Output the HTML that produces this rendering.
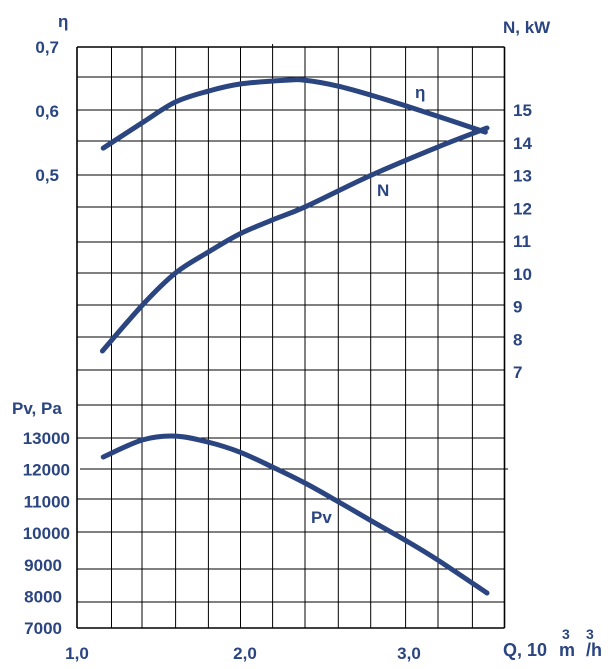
<!DOCTYPE html>
<html><head><meta charset="utf-8"><style>
html,body{margin:0;padding:0;background:#fff;}
svg{display:block;}
text{font-family:"Liberation Sans",Arial,sans-serif;font-weight:bold;fill:#2b4580;font-size:17px;}
</style></head><body>
<svg id="chart" width="610" height="669" viewBox="0 0 610 669">
<g id="grid"></g>
<g id="labels">
<text x="58" y="27">η</text>
<text x="503" y="33">N, kW</text>
<text x="12" y="414">Pv, Pa</text>
<text x="503" y="656" style="font-size:18px">Q, 10</text>
<text x="559" y="656" style="font-size:18px">m</text>
<text x="562" y="639" style="font-size:14px">3</text>
<text x="586" y="639" style="font-size:14px">3</text>
<text x="586" y="656" style="font-size:18px">/h</text>
<text x="415" y="98">η</text>
<text x="377" y="196">N</text>
<text x="311" y="523">Pv</text>
</g>
<g id="curves"></g>
</svg>
<script>
const xTicks=[1.0,2.0,3.0];
const xTickLabels=["1,0","2,0","3,0"];
const etaTicks=[0.7,0.6,0.5];
const etaTickLabels=["0,7","0,6","0,5"];
const nTicks=[15,14,13,12,11,10,9,8,7];
const pTicks=[13000,12000,11000,10000,9000,8000,7000];
const qEta=[1.16,1.40,1.60,1.80,1.99,2.27,2.39,2.59,2.79,3.09,3.49];
const etaVals=[0.542,0.582,0.614,0.631,0.642,0.648,0.648,0.639,0.625,0.601,0.567];
const qN=[1.155,1.40,1.60,1.80,1.99,2.19,2.39,2.79,3.20,3.50];
const nVals=[7.64,9.05,10.02,10.66,11.21,11.64,12.04,13.0,13.87,14.45];
const qP=[1.16,1.40,1.60,1.80,1.99,2.19,2.39,2.59,2.79,3.0,3.20,3.50];
const pVals=[12400,12940,13060,12870,12560,12090,11580,11000,10400,9780,9150,8110];

const NS="http://www.w3.org/2000/svg";
const xS=q=>77+(q-1)*164;
const yEta=v=>47+(0.7-v)*640;
const yN=v=>110+(15-v)*32.75;
const yP=v=>438+(13000-v)/1000*31.7;

const grid=document.getElementById('grid');
const vx=[77,111.5,142,175.6,208.4,240.5,272.6,305,338.3,370.7,405.6,438,472.4,504.5];
const hy=[47,77,110,141,175,207,242,273,305,337,370,405,438,469,499,532,569,602,628];
vx.forEach((x,i)=>{const l=document.createElementNS(NS,'line');
l.setAttribute('x1',x);l.setAttribute('x2',x);l.setAttribute('y1',i==6?44:47);l.setAttribute('y2',628);
l.setAttribute('stroke','#000');l.setAttribute('stroke-width',(i==0||i==13)?1.6:1);


grid.appendChild(l);});
hy.forEach((y,i)=>{const l=document.createElementNS(NS,'line');
l.setAttribute('x1',y==469?80:77);l.setAttribute('x2',y==469?508:504.5);l.setAttribute('y1',y);l.setAttribute('y2',y);
l.setAttribute('stroke','#000');l.setAttribute('stroke-width',(i==0||i==hy.length-1)?1.6:1);


grid.appendChild(l);});

const labels=document.getElementById('labels');
function txt(x,y,s,anchor,name){const t=document.createElementNS(NS,'text');
t.setAttribute('x',x);t.setAttribute('y',y);t.setAttribute('text-anchor',anchor);t.textContent=s;


labels.appendChild(t);}
xTicks.forEach((q,i)=>txt(xS(q)+(i?4:0),659,xTickLabels[i],'middle','x-tick-label'));
etaTicks.forEach((v,i)=>txt(59,yEta(v)+6,etaTickLabels[i],'end','eta-tick-label'));
nTicks.forEach(v=>txt(513,yN(v)+6,String(v),'start','power-tick-label'));
pTicks.forEach(v=>txt(v>=10000?70:62,yP(v)+6,String(v),'end','pressure-tick-label'));

function path(xs,ys){const p=xs.map((q,i)=>[xS(q),ys[i]]);
let d='M'+p[0][0]+','+p[0][1];
for(let i=0;i<p.length-1;i++){const p0=p[Math.max(0,i-1)],p1=p[i],p2=p[i+1],p3=p[Math.min(p.length-1,i+2)];
const c1=[p1[0]+(p2[0]-p0[0])/6,p1[1]+(p2[1]-p0[1])/6],c2=[p2[0]-(p3[0]-p1[0])/6,p2[1]-(p3[1]-p1[1])/6];
d+=' C'+c1+' '+c2+' '+p2;}return d;}
const curves=document.getElementById('curves');
function curve(xs,ys,name){const e=document.createElementNS(NS,'path');
e.setAttribute('d',path(xs,ys));e.setAttribute('fill','none');e.setAttribute('stroke','#2b4580');
e.setAttribute('stroke-width','5');e.setAttribute('stroke-linecap','round');


curves.appendChild(e);}
curve(qEta,etaVals.map(yEta),'eta-curve');
curve(qN,nVals.map(yN),'power-curve');
curve(qP,pVals.map(yP),'pressure-curve');
</script>
</body></html>
